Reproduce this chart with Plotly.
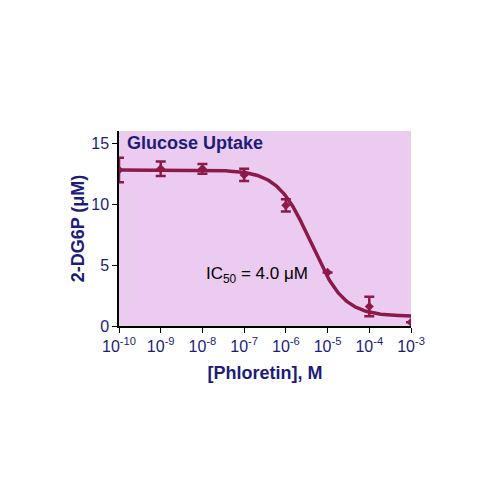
import numpy as np
import plotly.graph_objects as go

conc = [1e-10, 1e-9, 1e-8, 1e-7, 1e-6, 1e-5, 1e-4, 1e-3]
uptake = [12.8, 12.9, 12.9, 12.4, 9.9, 4.4, 1.6, 0.3]
err = [1.0, 0.6, 0.4, 0.5, 0.5, 0.0, 0.8, 0.0]
top, bottom, ic50, hill = 12.8, 0.8, 4.0e-6, 1.1

xs = np.logspace(-10, -3, 300)
fit = bottom + (top - bottom) / (1 + (xs / ic50) ** hill)

col = "#8B1A4A"
navy = "#1C1C7A"
fig = go.Figure()
fig.add_trace(go.Scatter(x=xs, y=fit, mode="lines", line=dict(color=col, width=3.5), hoverinfo="skip"))
fig.add_trace(go.Scatter(x=conc, y=uptake, mode="markers",
    marker=dict(symbol="diamond", size=7, color=col),
    error_y=dict(type="data", array=err, color=col, thickness=2.5, width=5)))
fig.add_annotation(x=0.02, y=1.0, xref="paper", yref="paper", xanchor="left", yanchor="top",
    text="<b>Glucose Uptake</b>", showarrow=False, font=dict(size=18, color=navy, family="Arial"))
fig.add_annotation(x=-6.7, y=4.2, xref="x", yref="y", text="IC<sub>50</sub> = 4.0 μM",
    showarrow=False, font=dict(size=17, color="black", family="Arial"))
fig.update_layout(width=500, height=500, showlegend=False, paper_bgcolor="white",
    plot_bgcolor="#EBCBEF", margin=dict(l=111, r=97, t=123, b=182),
    font=dict(family="Arial", color=navy))
fig.update_xaxes(type="log", range=[-10, -3], showgrid=False, showline=True, linecolor="black",
    linewidth=1.5, ticks="outside", tickcolor="black", tickvals=[10.0**k for k in range(-10, -2)],
    ticktext=[f"10<sup>{k}</sup>" for k in range(-10, -2)], tickfont=dict(size=16, color=navy),
    title=dict(text="<b>[Phloretin], M</b>", font=dict(size=18, color=navy), standoff=12))
fig.update_yaxes(range=[0, 16], showgrid=False, showline=True, linecolor="black", linewidth=1.5,
    ticks="outside", tickcolor="black", tickvals=[0, 5, 10, 15], tickfont=dict(size=16, color=navy),
    zeroline=False, title=dict(text="<b>2-DG6P (μM)</b>", font=dict(size=18, color=navy), standoff=2))
fig.write_html("out.html")
